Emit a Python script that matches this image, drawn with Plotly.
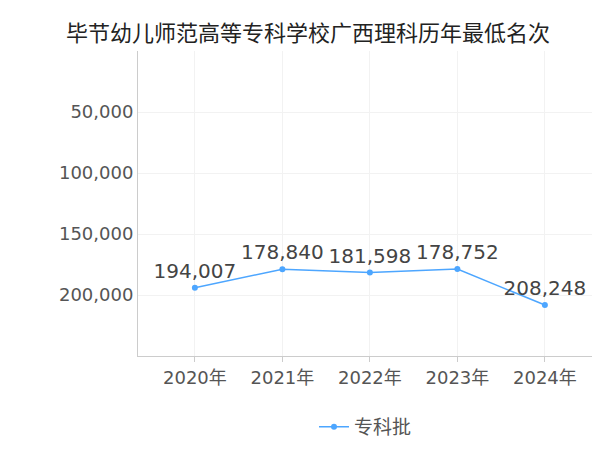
import plotly.graph_objects as go

years = ["2020年", "2021年", "2022年", "2023年", "2024年"]
ranks = [194007, 178840, 181598, 178752, 208248]
labels = ["194,007", "178,840", "181,598", "178,752", "208,248"]

fig = go.Figure()
fig.add_trace(go.Scatter(
    x=years, y=ranks, mode="lines+markers+text", name="专科批",
    text=labels, textposition="top center",
    textfont=dict(size=20, color="#444"),
    line=dict(color="#4da6ff", width=1.5),
    marker=dict(size=6, color="#4da6ff"),
))
fig.update_layout(
    width=600, height=450,
    font=dict(family="DejaVu Sans, Noto Sans CJK SC", color="#555"),
    title=dict(text="毕节幼儿师范高等专科学校广西理科历年最低名次", x=0.5, y=0.96,
               font=dict(size=22, color="#222")),
    plot_bgcolor="white", paper_bgcolor="white",
    margin=dict(l=130, r=15, t=43, b=82),
    showlegend=True,
    legend=dict(orientation="h", x=0.5, xanchor="center", y=-0.17, font=dict(size=19)),
)
fig.update_yaxes(range=[250000, 0], tickvals=[50000, 100000, 150000, 200000],
                 tickformat=",", tickfont=dict(size=18), showgrid=True,
                 gridcolor="#f2f2f2", showline=True, linecolor="#ccc", zeroline=False)
fig.update_xaxes(tickfont=dict(size=18), showgrid=True, gridcolor="#f2f2f2",
                 showline=True, linecolor="#ccc", ticks="outside", tickcolor="#ccc",
                 range=[-0.65, 4.55])
fig.write_html("out.html")
